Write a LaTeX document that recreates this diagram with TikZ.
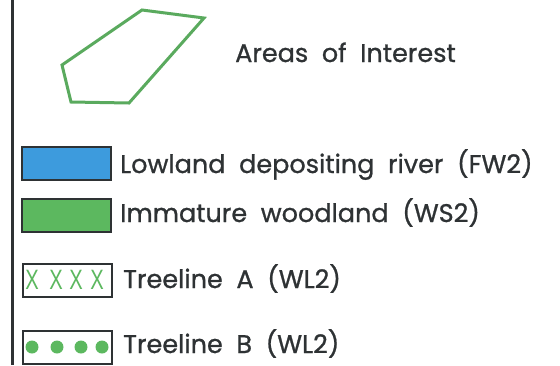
\documentclass[tikz,border=0pt]{standalone}
\usepackage{fontspec}
\setmainfont{Poppins}[FakeBold=0.9]
\newfontfamily\crossfont{Liberation Sans}
\definecolor{areagreen}{HTML}{5AAA5E}
\definecolor{riverblue}{HTML}{3D9BDD}
\definecolor{woodgreen}{HTML}{5CB85F}
\definecolor{edgegray}{HTML}{2E3234}
\tikzset{
  legendtext/.style={anchor=base west, inner sep=0pt, font=\fontsize{25.5}{26}\selectfont, text=edgegray},
  swatch/.style={draw=edgegray, line width=1.6pt, minimum width=89pt, minimum height=33pt, inner sep=0pt},
  crossmark/.style={anchor=base, inner sep=0pt, xscale=0.72, text=woodgreen, font=\crossfont\fontsize{28}{28}\selectfont},
}
\begin{document}
\begin{tikzpicture}[x=1pt,y=-1pt]
  \useasboundingbox (0,0) rectangle (560,365);
  % frame edge on the left
  \draw[edgegray, line width=3.5pt] (12.5,0) -- (12.5,365);
  % area of interest outline
  \draw[areagreen, line width=3pt, line join=miter]
    (142,10) -- (204,18) -- (129,103) -- (71,102) -- (62,65) -- cycle;
  \node[legendtext] (aoi) at (235,62) {Areas\ \ of\ \ Interest};
  % habitat swatches
  \node[swatch, fill=riverblue, anchor=north west] (fw2) at (21,146) {};
  \node[legendtext] (fw2t) at (120,173) {Lowland\ \ depositing\ \ river\ \ (FW2)};
  \node[swatch, fill=woodgreen, anchor=north west] (ws2) at (21,198) {};
  \node[legendtext] (ws2t) at (120,222) {Immature\ \ woodland\ \ (WS2)};
  % treeline A: crosses
  \node[swatch, fill=white, anchor=north west] (wla) at (22,263) {};
  \foreach \cx/\nm in {32/xa,56/xb,76/xc,97/xd}
    \node[crossmark] (\nm) at (\cx,289) {X};
  \node[legendtext] (wlat) at (123,288) {Treeline\ \ A\ \ (WL2)};
  % treeline B: dots, edged by the swatch frame drawn over them
  \foreach \cx in {32,57,81,102} \fill[woodgreen] (\cx,347) circle (6.5);
  \node[swatch, anchor=north west] (wlb) at (22,330) {};
  \node[legendtext] (wlbt) at (123,353) {Treeline\ \ B\ \ (WL2)};
\end{tikzpicture}
\end{document}
